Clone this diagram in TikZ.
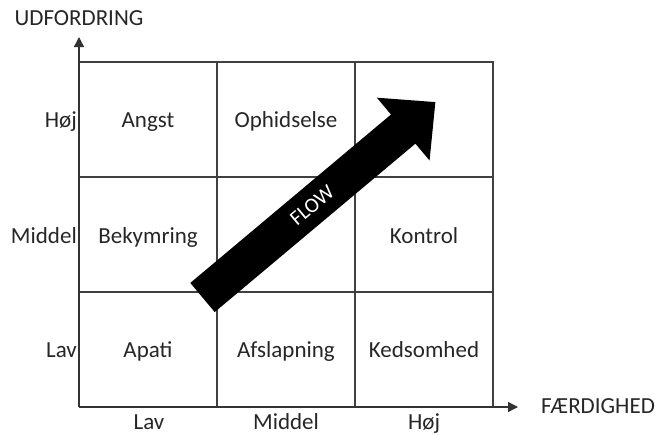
\documentclass[tikz,border=0pt]{standalone}
\usepackage{fontspec}
\setmainfont{Carlito}
\usetikzlibrary{arrows.meta}
\begin{document}
\begin{tikzpicture}[x=1pt,y=-1pt,
  gridline/.style={draw=black!75,line width=1.4pt},
  axisline/.style={draw=black!80,line width=1.4pt,-{Triangle[length=10pt,width=10pt]}},
  lbl/.style={font=\fontsize{23}{27}\selectfont,text=black!85,inner sep=0pt,anchor=base},
  rowlbl/.style={lbl,anchor=base east},
  flowtext/.style={font=\fontsize{21}{24}\selectfont,text=white,inner sep=0pt}]
\useasboundingbox (0,0) rectangle (655,434);
% grid
\draw[gridline] (79,62) -- (493,62) -- (493,407);
\draw[gridline] (217,62) -- (217,407);
\draw[gridline] (355,62) -- (355,407);
\draw[gridline] (79,177) -- (493,177);
\draw[gridline] (79,292) -- (493,292);
% axes
\coordinate (o) at (79,407);
\coordinate (ytip) at (79,37);
\coordinate (xtip) at (518,407);
\draw[axisline] (o) -- (ytip);
\draw[axisline] (o) -- (xtip);
\node[lbl] (ylab) at (79,25) {UDFORDRING};
\node[lbl,anchor=base west] (xlab) at (541,413) {FÆRDIGHED};
% row labels
\node[rowlbl] (r1) at (77,127.5) {Høj};
\node[rowlbl] (r2) at (77,243.5) {Middel};
\node[rowlbl] (r3) at (77,357.5) {Lav};
% column labels
\node[lbl] (c1) at (149,429.5) {Lav};
\node[lbl] (c2) at (286,429.5) {Middel};
\node[lbl] (c3) at (424,429.5) {Høj};
% cells
\node[lbl] (angst) at (148,127.5) {Angst};
\node[lbl] (ophid) at (286,127.5) {Ophidselse};
\node[lbl] (bekym) at (148,243.5) {Bekymring};
\node[lbl] (kontrol) at (424,243.5) {Kontrol};
\node[lbl] (apati) at (148,357.5) {Apati};
\node[lbl] (afslap) at (286,357.5) {Afslapning};
\node[lbl] (keds) at (424,357.5) {Kedsomhed};
% flow arrow
\begin{scope}[shift={(202.5,297.5)},rotate=40]
  \fill[black] (0,-19) -- (262,-19) -- (262,-41) -- (304,0) -- (262,41) -- (262,19) -- (0,19) -- cycle;
  \node[flowtext,rotate=40] (flow) at (143,0) {FLOW};
\end{scope}
\end{tikzpicture}
\end{document}
